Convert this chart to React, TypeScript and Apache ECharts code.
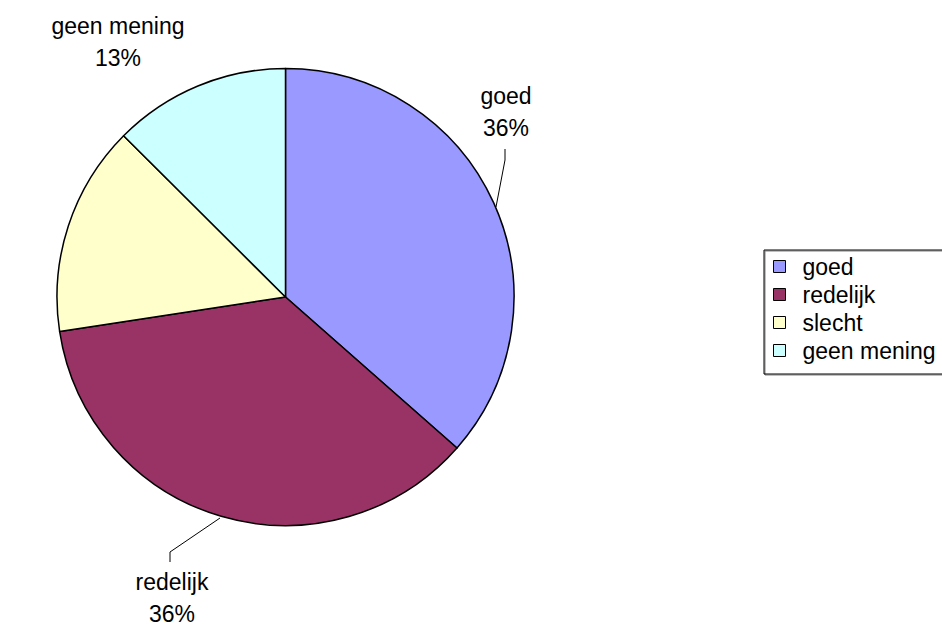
import React, { useEffect, useRef } from "react";
import * as echarts from "echarts";

const categories = ["goed", "redelijk", "slecht", "geen mening"];
const values = [36.49, 36.1, 14.88, 12.53];
const colors = ["#9999FF", "#993366", "#FFFFCC", "#CCFFFF"];
const showLeader = [true, true, false, false];

// label layout (centres of label blocks) and leader line points
const labelCenters = [
  [506, 112],
  [172, 598],
  [41, 190],
  [118, 42],
];
const leaderPoints = [
  [[496, 207], [505, 160], [505, 149]],
  [[220, 518], [170, 552], [170, 562]],
  null,
  null,
];

const FONT = "'Liberation Sans', Arial, sans-serif";

export default function App() {
  const ref = useRef<HTMLDivElement>(null);
  useEffect(() => {
    if (!ref.current) return;
    const chart = echarts.init(ref.current, undefined, { renderer: "svg" });
    const data = categories.map((name, i) => ({
      name,
      value: values[i],
      itemStyle: { color: colors[i] },
      labelLine: { show: showLeader[i] },
    }));
    chart.setOption({
      animation: false,
      backgroundColor: "#ffffff",
      legend: {
        orient: "vertical",
        left: 764,
        top: 250,
        data: categories,
        icon: "rect",
        itemWidth: 12,
        itemHeight: 12,
        itemGap: 5,
        padding: [5, 10, 12, 9],
        borderColor: "#000000",
        borderWidth: 1,
        shadowColor: "rgba(0,0,0,0.5)",
        shadowOffsetX: 1,
        shadowOffsetY: 1,
        itemStyle: { borderColor: "#000000", borderWidth: 1 },
        textStyle: {
          fontFamily: FONT,
          fontSize: 23,
          lineHeight: 23,
          color: "#000000",
          padding: [0, 0, 0, 12],
        },
      },
      series: [
        {
          type: "pie",
          center: [285.5, 297],
          radius: 228.5,
          startAngle: 90,
          clockwise: true,
          data,
          itemStyle: { borderColor: "#000000", borderWidth: 1.5 },
          emphasis: { disabled: true },
          label: {
            show: true,
            position: "outside",
            fontFamily: FONT,
            fontSize: 23,
            lineHeight: 32,
            color: "#000000",
            align: "center",
            formatter: (p: any) => `${p.name}\n${Math.round(p.percent)}%`,
          },
          labelLine: {
            show: true,
            lineStyle: { color: "#000000", width: 1 },
          },
          labelLayout: (params: any) => {
            const i = params.dataIndex;
            const c = labelCenters[i];
            const res: any = {
              x: c[0],
              y: c[1],
              align: "center",
              verticalAlign: "middle",
            };
            if (leaderPoints[i]) res.labelLinePoints = leaderPoints[i];
            return res;
          },
        },
      ],
    });
    return () => chart.dispose();
  }, []);
  return (
    <div
      ref={ref}
      style={{ position: "fixed", left: 0, top: 0, width: 942, height: 626 }}
    />
  );
}
